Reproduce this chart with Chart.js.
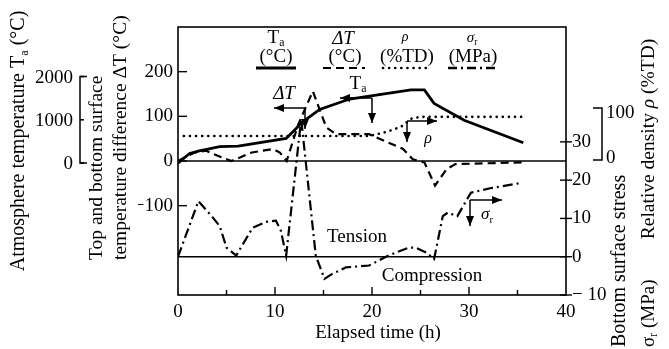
<!DOCTYPE html>
<html>
<head>
<meta charset="utf-8">
<script src="https://cdn.jsdelivr.net/npm/chart.js@4.4.0/dist/chart.umd.min.js"></script>
<style>
  body { margin: 0; background: #fff; }
  #wrap { width: 669px; height: 349px; }
</style>
</head>
<body>
<div id="wrap"><canvas id="myChart" width="669" height="349"></canvas></div>
<script>
// elapsed time (h) and values
const taTime = [0, 1.2, 2.2, 4.3, 6.2, 11.15, 12.9, 14.6, 17.7, 24.0, 25.4, 26.4, 29.5, 35.6];
const taVals = [0, 220, 280, 380, 390, 570, 960, 1240, 1480, 1690, 1690, 1380, 990, 470];      // °C

const dtTime = [0, 1.7, 2.9, 3.6, 5.5, 7.6, 9.8, 10.5, 11.2, 12.4, 13.9, 15.3, 16.3, 19.7, 23.2, 24.2, 25.4, 26.5, 27.7, 28.6, 35.5];
const dtVals = [0, 19, 23, 16, 0, 19, 27, 19, 0, 82, 156, 75, 60, 60, 27, 4, -3, -55, -18, -7, -3];  // °C

const rhoTime = [0.6, 19.7, 21.5, 23.0, 24.1, 25.0, 35.5];
const rhoVals = [46, 46, 54, 64, 80, 83, 83];   // %TD

const sgTime = [0, 2.1, 3.6, 4.3, 5.0, 6.0, 7.7, 9.1, 10.1, 10.6, 11.15, 12.7, 14.2, 15.1, 15.9, 17.3, 19.7, 21.7, 23.8, 24.5, 25.6, 26.4, 27.3, 27.8, 28.8, 29.8, 30.2, 32.4, 35.5];
const sgVals = [0, 14.5, 10.2, 8, 2.4, 0.3, 7.6, 9.1, 9.4, 6.8, 0.3, 36, 0.3, -5.8, -4.5, -2.8, -2.3, 0.3, 2.4, 2.4, 1.1, -0.6, 10.6, 11.5, 10.6, 15, 16.7, 18, 19.3];  // MPa

const xTicks = [0, 10, 20, 30, 40];
const dtTicks = [-100, 0, 100, 200];
const sgTicks = [-10, 0, 10, 20, 30];
const taBracket = [0, 1000, 2000];
const rhoBracket = [0, 100];

const SERIF = "'Liberation Serif', 'Times New Roman', serif";
const FS = 19;

function pts(xs, ys) { return xs.map((x, i) => ({x: x, y: ys[i]})); }
function minusFmt(v, gap) { return v < 0 ? '\u2212' + gap + Math.abs(v) : String(v); }

function fontFor(kind, size) {
  let s = kind.indexOf('sub') >= 0 ? size * 0.62 : size;
  return (kind.indexOf('it') >= 0 ? 'italic ' : '') + s + 'px ' + SERIF;
}

// draw text made of parts: 'plain' or [text, kind]
function rich(ctx, parts, x, y, align, rot, size) {
  size = size || FS;
  ctx.save();
  ctx.translate(x, y);
  if (rot) ctx.rotate(rot);
  let w = 0;
  const segs = parts.map(p => {
    const s = typeof p === 'string' ? p : p[0];
    const kind = typeof p === 'string' ? '' : p[1];
    ctx.font = fontFor(kind, size);
    const m = ctx.measureText(s).width;
    w += m;
    return {s, kind, m};
  });
  let cx = align === 'center' ? -w / 2 : align === 'right' ? -w : 0;
  ctx.textAlign = 'left';
  ctx.textBaseline = 'middle';
  ctx.fillStyle = '#000';
  segs.forEach(g => {
    ctx.font = fontFor(g.kind, size);
    ctx.fillText(g.s, cx, g.kind.indexOf('sub') >= 0 ? size * 0.28 : 0);
    cx += g.m;
  });
  ctx.restore();
}

function arrow(ctx, x1, y1, x2, y2) {
  ctx.beginPath(); ctx.moveTo(x1, y1); ctx.lineTo(x2, y2); ctx.stroke();
  const a = Math.atan2(y2 - y1, x2 - x1), L = 10, W = 4;
  ctx.beginPath();
  ctx.moveTo(x2, y2);
  ctx.lineTo(x2 - L * Math.cos(a) + W * Math.sin(a), y2 - L * Math.sin(a) - W * Math.cos(a));
  ctx.lineTo(x2 - L * Math.cos(a) - W * Math.sin(a), y2 - L * Math.sin(a) + W * Math.cos(a));
  ctx.closePath(); ctx.fill();
}

const deco = {
  id: 'deco',
  beforeDatasetsDraw(chart) {
    const {ctx, chartArea: a, scales} = chart;
    ctx.save();
    ctx.strokeStyle = '#000';
    ctx.lineWidth = 1.6;
    ctx.strokeRect(a.left, a.top, a.right - a.left, a.bottom - a.top);
    // zero lines
    [scales.y.getPixelForValue(0), scales.yS.getPixelForValue(0)].forEach(py => {
      ctx.beginPath(); ctx.moveTo(a.left, py); ctx.lineTo(a.right, py); ctx.stroke();
    });
    ctx.lineWidth = 1.4;
    // inward ticks
    dtTicks.forEach(v => {
      const py = scales.y.getPixelForValue(v);
      ctx.beginPath(); ctx.moveTo(a.left, py); ctx.lineTo(a.left + 9, py); ctx.stroke();
    });
    sgTicks.forEach(v => {
      const py = scales.yS.getPixelForValue(v);
      ctx.beginPath(); ctx.moveTo(a.right - 6, py); ctx.lineTo(a.right + 6, py); ctx.stroke();
    });
    for (let t = 5; t < 40; t += 5) {
      const px = scales.x.getPixelForValue(t);
      ctx.beginPath(); ctx.moveTo(px, a.bottom); ctx.lineTo(px, a.bottom - (t % 10 ? 5 : 8)); ctx.stroke();
    }
    ctx.restore();
  },
  afterDraw(chart) {
    const {ctx, scales} = chart;
    ctx.save();
    ctx.strokeStyle = '#000';
    ctx.fillStyle = '#000';
    ctx.lineWidth = 1.5;

    // Ta bracket axis (left)
    const bx = 80;
    const t0 = scales.yT.getPixelForValue(taBracket[0]);
    const t2 = scales.yT.getPixelForValue(taBracket[taBracket.length - 1]);
    ctx.beginPath();
    ctx.moveTo(bx + 7, t2); ctx.lineTo(bx, t2); ctx.lineTo(bx, t0); ctx.lineTo(bx + 7, t0);
    ctx.stroke();
    taBracket.forEach(v => {
      const py = scales.yT.getPixelForValue(v);
      ctx.beginPath(); ctx.moveTo(bx, py); ctx.lineTo(bx + 4, py); ctx.stroke();
      rich(ctx, [String(v)], bx - 7, py + 1, 'right', 0);
    });

    // rho bracket axis (right)
    const rx = 602;
    const r0 = scales.yR.getPixelForValue(rhoBracket[0]);
    const r1 = scales.yR.getPixelForValue(rhoBracket[1]);
    ctx.beginPath();
    ctx.moveTo(rx - 9, r1); ctx.lineTo(rx, r1); ctx.lineTo(rx, r0); ctx.lineTo(rx - 9, r0);
    ctx.stroke();
    rich(ctx, ['100'], rx + 4, r1 + 5, 'left', 0);
    rich(ctx, ['0'], rx + 4, r0 - 2, 'left', 0);

    // axis titles
    const up = -Math.PI / 2;
    rich(ctx, ['Atmosphere temperature T', ['a', 'sub'], ' (\u00b0C)'], 19, 141, 'center', up, 20);
    rich(ctx, ['Top and bottom surface'], 97, 260, 'left', up, 19.5);
    rich(ctx, ['temperature difference \u0394T (\u00b0C)'], 121, 260, 'left', up, 19.5);
    rich(ctx, ['Bottom surface stress'], 620, 347, 'left', up, 20);
    rich(ctx, [['\u03c3', ''], ['r', 'sub'], ' (MPa)'], 649, 347, 'left', up, 19);
    rich(ctx, ['Relative density ', ['\u03c1', 'it'], ' (%TD)'], 649, 139, 'center', up, 19.5);
    rich(ctx, ['Elapsed time (h)'], 378, 333, 'center', 0, 19);
    rich(ctx, ['Tension'], 357, 237, 'center', 0, 19);
    rich(ctx, ['Compression'], 432, 276, 'center', 0, 19);

    // legend
    const ly = 68;
    rich(ctx, ['T', ['a', 'sub']], 276, 38, 'center', 0, 19);
    rich(ctx, ['(\u00b0C)'], 276, 57, 'center', 0, 19);
    rich(ctx, [['\u0394T', 'it']], 343, 39, 'center', 0, 19);
    rich(ctx, ['(\u00b0C)'], 345, 57, 'center', 0, 19);
    rich(ctx, [['\u03c1', 'it']], 405, 37, 'center', 0, 14);
    rich(ctx, ['(%TD)'], 407, 57, 'center', 0, 19);
    rich(ctx, [['\u03c3', 'it'], ['r', 'sub']], 472, 38, 'center', 0, 15);
    rich(ctx, ['(MPa)'], 473, 57, 'center', 0, 19);
    const legendLines = [
      [256, 296, [], 3, 'butt'],
      [323, 365, [8, 5], 2.2, 'butt'],
      [383, 430, [0.1, 6], 2.6, 'round'],
      [448, 498, [9, 4, 2, 4], 2.4, 'butt']
    ];
    legendLines.forEach(([x1, x2, dash, w, cap]) => {
      ctx.save();
      ctx.setLineDash(dash); ctx.lineWidth = w; ctx.lineCap = cap;
      ctx.beginPath(); ctx.moveTo(x1, ly); ctx.lineTo(x2, ly); ctx.stroke();
      ctx.restore();
    });

    // annotation arrows
    ctx.lineWidth = 1.5;
    arrow(ctx, 372, 98, 340, 98); arrow(ctx, 372, 98, 372, 123);
    rich(ctx, ['T', ['a', 'sub']], 358, 84, 'center', 0, 19);
    arrow(ctx, 305, 108, 274, 108); arrow(ctx, 305, 108, 305, 129);
    rich(ctx, [['\u0394T', 'it']], 284, 94, 'center', 0, 19);
    arrow(ctx, 407, 121, 437, 121); arrow(ctx, 407, 121, 407, 142);
    rich(ctx, [['\u03c1', 'it']], 428, 139, 'center', 0, 16);
    arrow(ctx, 470, 200, 502, 200); arrow(ctx, 470, 200, 470, 226);
    rich(ctx, [['\u03c3', 'it'], ['r', 'sub']], 487, 215, 'center', 0, 17);
    ctx.restore();
  }
};

new Chart(document.getElementById('myChart'), {
  type: 'line',
  data: {
    datasets: [
      { label: 'Ta', data: pts(taTime, taVals), yAxisID: 'yT', borderColor: '#000', borderWidth: 2.8, pointRadius: 0 },
      { label: 'dT', data: pts(dtTime, dtVals), yAxisID: 'y', borderColor: '#000', borderWidth: 2.2, borderDash: [8, 5], pointRadius: 0 },
      { label: 'rho', data: pts(rhoTime, rhoVals), yAxisID: 'yR', borderColor: '#000', borderWidth: 2.6, borderDash: [0.1, 6], borderCapStyle: 'round', pointRadius: 0 },
      { label: 'sigma', data: pts(sgTime, sgVals), yAxisID: 'yS', borderColor: '#000', borderWidth: 2.2, borderDash: [10, 4, 2, 4], pointRadius: 0 }
    ]
  },
  options: {
    responsive: false,
    animation: false,
    layout: { padding: { left: 138, right: 63, top: 27, bottom: 29 } },
    plugins: { legend: { display: false }, tooltip: { enabled: false } },
    scales: {
      x: {
        type: 'linear', min: 0, max: 40,
        grid: { display: false, drawTicks: false }, border: { display: false },
        ticks: { stepSize: 10, padding: 6, color: '#000', font: { family: SERIF, size: FS } },
        afterBuildTicks: s => { s.ticks = xTicks.map(v => ({value: v})); },
        afterFit: s => { s.height = 25; }
      },
      y: {
        position: 'left', min: -300, max: 300,
        grid: { display: false, drawTicks: false }, border: { display: false },
        ticks: { padding: 5, color: '#000', font: { family: SERIF, size: FS }, callback: v => minusFmt(v, '') },
        afterBuildTicks: s => { s.ticks = dtTicks.map(v => ({value: v})); },
        afterFit: s => { s.width = 40; }
      },
      yS: {
        position: 'right', min: -10, max: 60,
        grid: { display: false, drawTicks: false }, border: { display: false },
        ticks: { padding: 6, color: '#000', font: { family: SERIF, size: FS }, callback: v => minusFmt(v, ' ') },
        afterBuildTicks: s => { s.ticks = sgTicks.map(v => ({value: v})); },
        afterFit: s => { s.width = 40; }
      },
      yT: { display: false, min: -3050, max: 3145 },
      yR: { display: false, min: -260, max: 256 }
    }
  },
  plugins: [deco]
});
</script>
</body>
</html>
